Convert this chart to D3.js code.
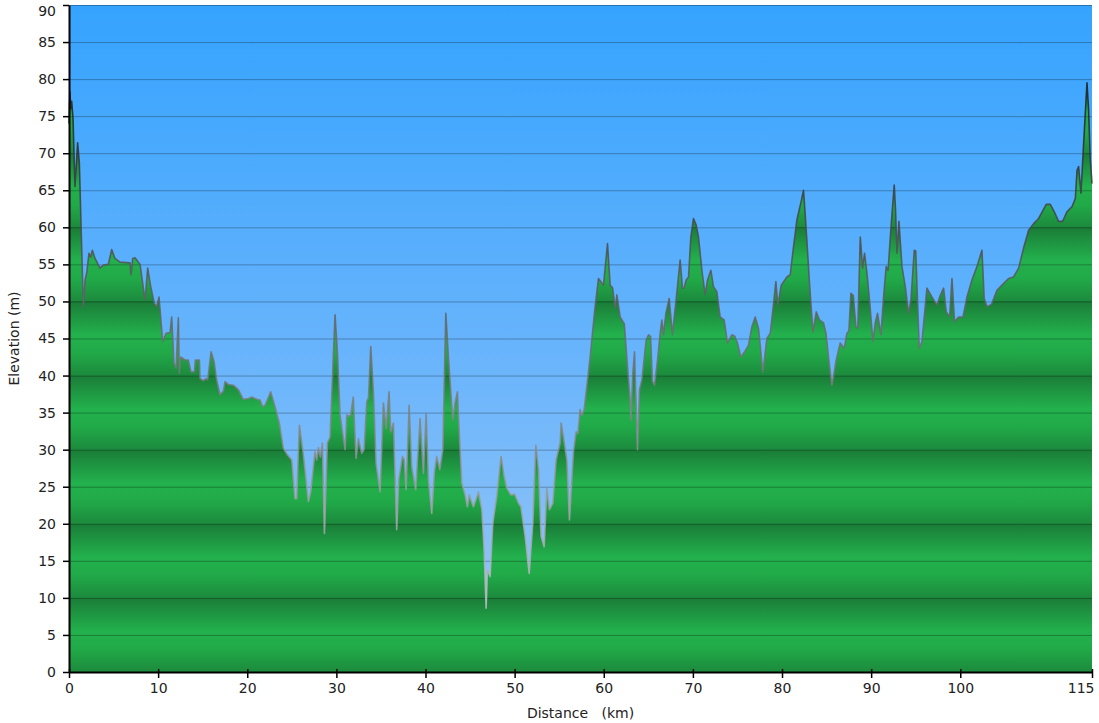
<!DOCTYPE html>
<html>
<head>
<meta charset="utf-8">
<script src="https://cdn.jsdelivr.net/npm/d3@7"></script>
<style>
  body { margin: 0; background: #fff; }
  text { font-family: "DejaVu Sans", Verdana, sans-serif; }
</style>
</head>
<body>
<div id="chart"></div>
<script>
// elevation profile
const distanceKm = [
  0, 0.1, 0.2, 0.3, 0.45, 0.67, 0.97, 1.16, 1.42, 1.61, 1.8, 1.98, 2.24, 2.43, 2.62, 2.92, 3.48, 3.85, 4.41, 4.79,
  5.16, 5.72, 6.85, 6.96, 7.15, 7.41, 7.97, 8.53, 8.83, 9.17, 9.58, 9.84, 10.1, 10.51, 10.89, 11.34, 11.52, 11.78, 12.01, 12.27,
  12.38, 12.53, 13.02, 13.39, 13.69, 14.07, 14.18, 14.63, 14.7, 15.07, 15.38, 15.56, 15.94, 16.27, 16.57, 16.95, 17.32, 17.51, 17.88, 18.44,
  19, 19.56, 20.13, 20.5, 21.06, 21.44, 21.74, 22, 22.63, 23.12, 23.6, 24.05, 24.5, 24.99, 25.36, 25.55, 25.85, 26.3, 26.86, 27.12,
  27.6, 27.8, 27.98, 28.2, 28.43, 28.66, 28.99, 29.29, 29.85, 30.12, 30.42, 30.98, 31.17, 31.4, 31.6, 31.9, 32.21, 32.47, 32.85, 33.1,
  33.41, 33.6, 33.86, 34.16, 34.46, 34.9, 35.28, 35.58, 35.91, 36.1, 36.4, 36.77, 37, 37.41, 37.6, 37.82, 38.16, 38.46, 38.9, 39.39,
  39.77, 40.07, 40.33, 40.7, 41, 41.26, 41.6, 41.94, 42.28, 42.57, 43.06, 43.32, 43.58, 43.7, 44.07, 44.44, 44.7, 44.9, 45.38, 45.94,
  46.32, 46.58, 46.8, 46.95, 47.25, 47.55, 48, 48.48, 48.82, 49.12, 49.57, 50, 50.43, 50.7, 51.18, 51.63, 52.04, 52.38, 52.68, 52.97,
  53.31, 53.61, 53.91, 54.28, 54.66, 55.11, 55.22, 55.5, 55.86, 56.15, 56.6, 56.9, 57.1, 57.35, 57.55, 57.8, 58.47, 59.03, 59.41, 59.97,
  60.42, 60.72, 61, 61.28, 61.47, 61.84, 62.14, 62.3, 62.59, 62.96, 63.04, 63.26, 63.45, 63.78, 64.01, 64.27, 64.76, 65.02, 65.25, 65.47,
  65.69, 66.03, 66.33, 66.52, 66.7, 66.97, 67.34, 67.71, 67.95, 68.27, 68.57, 68.83, 69, 69.25, 69.51, 69.77, 70.07, 70.37, 70.63, 71.01,
  71.38, 71.64, 72.02, 72.31, 72.69, 73.06, 73.51, 73.88, 74.37, 74.7, 75, 75.38, 75.8, 76.24, 76.62, 76.99, 77.36, 77.85, 78.3, 78.68,
  79.05, 79.31, 79.53, 79.91, 80.55, 80.92, 81.29, 81.67, 82.15, 82.41, 82.68, 83.09, 83.47, 83.84, 84.21, 84.66, 84.93, 85.22, 85.6, 86.08,
  86.53, 86.98, 87.28, 87.5, 87.73, 88, 88.29, 88.5, 88.78, 89.04, 89.26, 89.53, 89.82, 90.2, 90.46, 90.72, 91.1, 91.39, 91.69, 91.9,
  92.22, 92.59, 92.74, 92.9, 93.12, 93.46, 93.83, 94.2, 94.46, 94.84, 95, 95.4, 95.7, 96.26, 96.82, 97.38, 97.75, 98.13, 98.43, 98.8,
  99.07, 99.36, 99.81, 100.3, 100.75, 101.31, 101.87, 102.43, 102.69, 103, 103.5, 104.12, 104.68, 105.42, 105.98, 106.55, 107.1, 107.67, 108.23, 108.79,
  109.28, 109.65, 110.1, 110.55, 111.03, 111.48, 111.97, 112.54, 112.91, 113.1, 113.28, 113.54, 113.84, 114.22, 114.4, 114.59, 114.78
];
const elevationM = [
  74, 78.3, 76, 77, 74.7, 65.5, 71.4, 68.7, 57.4, 49.3, 52.9, 53.8, 56.5, 56, 56.9, 55.8, 54.5, 54.9, 55, 57,
  55.8, 55.3, 55.2, 53.6, 55.8, 55.9, 55, 50.2, 54.5, 52, 49.7, 49.3, 50.6, 44.6, 45.7, 45.8, 47.9, 41.7, 41, 47.8,
  40.3, 42.5, 42.1, 42.1, 40.5, 40.5, 42.1, 42.1, 39.6, 39.3, 39.6, 39.4, 43.2, 41.9, 39.4, 37.4, 37.9, 39.2, 38.8, 38.7,
  38.1, 36.8, 36.9, 37.1, 36.8, 36.7, 35.8, 36, 37.8, 35.8, 33.6, 30.2, 29.3, 28.6, 23.4, 23.4, 33.3, 29.3, 23, 24.3,
  29.7, 28.6, 30.3, 29, 30.9, 18.7, 30.9, 31.7, 48.2, 43, 34.7, 30, 34.7, 34.5, 34.7, 37.1, 28.8, 31.5, 29.5, 30,
  36.5, 37, 43.9, 37.6, 28.1, 24.3, 36.3, 32.9, 37.8, 32.4, 33.6, 19.2, 26, 29.1, 28.7, 24.6, 36, 27.7, 24.6, 34.2,
  26.8, 34.9, 25.9, 21.4, 27, 29.1, 27.3, 30, 48.4, 42.5, 34, 36.3, 37.8, 34.5, 25.5, 23.9, 22.3, 23.9, 22.3, 24.3,
  21.9, 16.5, 8.6, 13.8, 12.9, 20.1, 23.7, 29.1, 26.4, 24.8, 23.9, 24, 22.8, 22.3, 18.3, 13.3, 20.1, 30.6, 27.3, 18.3,
  16.9, 24.8, 21.9, 22.8, 28.6, 30.9, 33.6, 31.5, 28.6, 20.5, 29.7, 32.4, 32.2, 35.4, 34.6, 35.4, 42.5, 49.3, 53.1, 52.2,
  57.8, 52.2, 51.8, 49.1, 50.9, 47.9, 47.3, 47, 42.5, 36.7, 34, 40.3, 43.2, 30, 38.1, 39.4, 44.8, 45.5, 45.3, 39.2,
  38.7, 42.1, 45.7, 47.5, 45.5, 48.4, 50.4, 45.5, 48.4, 52, 55.6, 51.8, 51.8, 52.9, 53.3, 58.7, 61.2, 60.3, 58.7, 54.2,
  50.9, 52.9, 54.2, 52, 51.3, 47.9, 47.5, 44.4, 45.5, 45.3, 44.4, 42.5, 43.2, 44.1, 46.6, 47.9, 46.4, 40.5, 45, 45.7,
  49.7, 52.7, 49.5, 52.2, 53.3, 53.6, 57.4, 61, 63.5, 65, 60.3, 52.4, 45.9, 48.6, 47.5, 47.1, 45.7, 42.5, 38.7, 42.1,
  44.4, 43.7, 45.7, 46, 51.1, 50.8, 46.6, 46.4, 58.7, 54.5, 56.5, 53.8, 50.2, 44.6, 47.1, 48.4, 45.5, 50.6, 54.7, 54.2,
  59.9, 65.7, 62.3, 56.5, 60.8, 54.7, 52, 48.4, 50.2, 56.9, 56.8, 43.7, 44.6, 51.8, 50.6, 49.5, 50.8, 51.8, 48.6, 47.9,
  53.1, 47.3, 47.9, 47.9, 50.6, 52.9, 54.7, 56.9, 50.4, 49.3, 49.6, 51.5, 52.2, 53.1, 53.3, 54.5, 57.2, 59.6, 60.5, 61.2,
  62.3, 63.1, 63.1, 62.1, 60.8, 60.8, 62.1, 62.8, 63.9, 67.7, 68.2, 64.6, 71.3, 79.5, 75.8, 69.1, 65.9
];
const yTicks = d3.range(0, 91, 5);
const xTicks = [0, 10, 20, 30, 40, 50, 60, 70, 80, 90, 100];
const xLabel = "Distance   (km)";
const yLabel = "Elevation (m)";

const width = 1099, height = 723;
const margin = {top: 5, right: 7, bottom: 51, left: 69};

const data = distanceKm.map((d, i) => ({km: d, m: elevationM[i]}));
const xMax = d3.max(distanceKm);

const svg = d3.select("#chart")
  .append("svg")
  .attr("width", width)
  .attr("height", height);

const x = d3.scaleLinear()
  .domain([0, xMax])
  .range([margin.left, width - margin.right]);

const y = d3.scaleLinear()
  .domain([0, 90])
  .range([height - margin.bottom, margin.top]);

/*
  Gradients
*/
const defs = svg.append("defs");

const sky = defs.append("linearGradient")
  .attr("id", "sky")
  .attr("gradientUnits", "userSpaceOnUse")
  .attr("x1", 0).attr("x2", 0)
  .attr("y1", y(90)).attr("y2", y(0));
sky.append("stop").attr("offset", 0).attr("stop-color", "#35a3fe");
sky.append("stop").attr("offset", 0.5).attr("stop-color", "#66b3fc");
sky.append("stop").attr("offset", 1).attr("stop-color", "#9cc8f6");

// green bands repeating every 10 m
const ground = defs.append("linearGradient")
  .attr("id", "ground")
  .attr("gradientUnits", "userSpaceOnUse")
  .attr("spreadMethod", "repeat")
  .attr("x1", 0).attr("x2", 0)
  .attr("y1", y(10)).attr("y2", y(0));
ground.append("stop").attr("offset", 0).attr("stop-color", "#1a7c37");
ground.append("stop").attr("offset", 0.45).attr("stop-color", "#23b14d");
ground.append("stop").attr("offset", 0.7).attr("stop-color", "#21a948");
ground.append("stop").attr("offset", 1).attr("stop-color", "#1c8a3d");

const edge = defs.append("linearGradient")
  .attr("id", "edge")
  .attr("gradientUnits", "userSpaceOnUse")
  .attr("x1", 0).attr("x2", 0)
  .attr("y1", y(80)).attr("y2", y(10));
edge.append("stop").attr("offset", 0).attr("stop-color", "#1a1a1a");
edge.append("stop").attr("offset", 1).attr("stop-color", "#b8bcc2");

/*
  Plot
*/
svg.append("rect")
  .attr("x", margin.left)
  .attr("y", margin.top)
  .attr("width", width - margin.left - margin.right)
  .attr("height", y(0) - margin.top)
  .attr("fill", "url(#sky)");

const area = d3.area()
  .x(d => x(d.km))
  .y0(y(0))
  .y1(d => y(d.m));

svg.append("path")
  .datum(data)
  .attr("d", area)
  .attr("fill", "url(#ground)");

// grid lines
svg.append("g")
  .selectAll("line")
  .data(yTicks.filter(d => d > 0))
  .enter()
  .append("line")
    .attr("x1", margin.left)
    .attr("x2", width - margin.right)
    .attr("y1", d => y(d) + 0.5)
    .attr("y2", d => y(d) + 0.5)
    .attr("stroke", "#000")
    .attr("stroke-opacity", 0.28);

const line = d3.line()
  .x(d => x(d.km))
  .y(d => y(d.m));

svg.append("path")
  .datum(data)
  .attr("d", line)
  .attr("fill", "none")
  .attr("stroke", "url(#edge)")
  .attr("stroke-opacity", 0.85)
  .attr("stroke-width", 1.6)
  .attr("stroke-linejoin", "round");

/*
  Axes
*/
const yAxis = svg.append("g")
  .attr("transform", `translate(${margin.left},0)`)
  .call(d3.axisLeft(y).tickValues(yTicks).tickSize(6).tickSizeOuter(0).tickPadding(7));

const xAxis = svg.append("g")
  .attr("transform", `translate(0,${y(0)})`)
  .call(d3.axisBottom(x)
    .tickValues(xTicks.concat([xMax]))
    .tickFormat(d => Math.round(d))
    .tickSize(6).tickSizeOuter(0).tickPadding(5));

[yAxis, xAxis].forEach(g => {
  g.selectAll("text")
    .attr("font-size", "14px")
    .attr("font-family", "DejaVu Sans, Verdana, sans-serif")
    .attr("fill", "#222");
  g.selectAll("line").attr("stroke", "#000").attr("stroke-width", 1.5);
  g.select(".domain").attr("stroke", "#000").attr("stroke-width", 2);
});

xAxis.selectAll(".tick line").attr("y1", -3);

// keep the end labels inside the picture
yAxis.selectAll(".tick")
  .filter(d => d === 90)
  .select("text")
  .attr("dy", "0.75em");

xAxis.selectAll(".tick")
  .filter(d => d === xMax)
  .select("text")
  .attr("text-anchor", "end")
  .attr("x", 2);

svg.append("text")
  .attr("x", (margin.left + width - margin.right) / 2)
  .attr("y", 718)
  .attr("text-anchor", "middle")
  .attr("font-size", "14px")
  .attr("fill", "#222")
  .style("white-space", "pre")
  .text(xLabel);

svg.append("text")
  .attr("transform", `translate(19,${(margin.top + y(0)) / 2}) rotate(-90)`)
  .attr("text-anchor", "middle")
  .attr("font-size", "14px")
  .attr("fill", "#222")
  .text(yLabel);
</script>
</body>
</html>
